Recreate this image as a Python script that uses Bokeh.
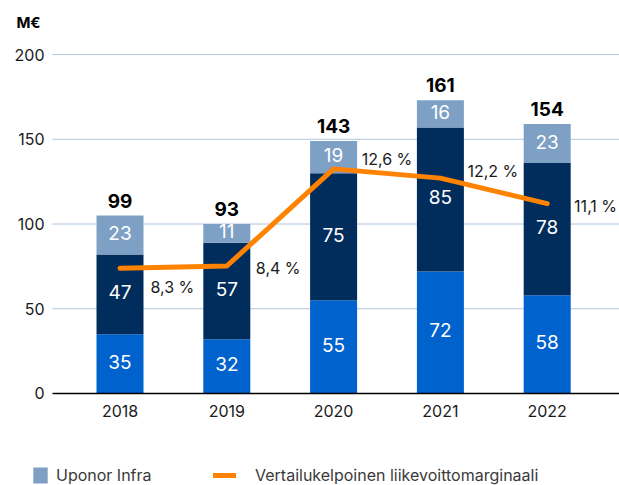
from bokeh.plotting import figure
from bokeh.models import (Range1d, ColumnDataSource, Label, Legend, LegendItem, LabelSet)
from bokeh.core.properties import value
from bokeh.embed import file_html
from bokeh.resources import INLINE

# ---------------- data ----------------
years = ["2018", "2019", "2020", "2021", "2022"]
seg_bottom = [35, 32, 55, 72, 58]
seg_middle = [47, 57, 75, 85, 78]
uponor_infra = [23, 11, 19, 16, 23]
totals = [99, 93, 143, 161, 154]
margin_pct = [8.3, 8.4, 12.6, 12.2, 11.1]
pct_labels = ["8,3 %", "8,4 %", "12,6 %", "12,2 %", "11,1 %"]
y_ticks = [0, 50, 100, 150, 200]

# ---------------- style / layout ----------------
FONT = "Inter"
C_BOTTOM = "#0062CC"
C_MIDDLE = "#002D5C"
C_TOP = "#7DA0C4"
C_LINE = "#FF8200"
C_GRID = "#AFC6DE"
TXT = "#1a1a1a"
X_START, X_END = -1.119, 4.677      # full canvas width in category units
Y_START, Y_END = -54.3, 231.9       # full canvas height in M€
PCT_START, PCT_END = -1.09, 19.88   # secondary (margin %) scale
GRID_X0 = -0.632                    # left end of plot area

x = list(range(len(years)))

p = figure(width=619, height=485,
           x_range=Range1d(X_START, X_END), y_range=Range1d(Y_START, Y_END),
           output_backend="svg", toolbar_location=None,
           min_border=0, min_border_left=0, min_border_right=0,
           min_border_top=0, min_border_bottom=0)
p.outline_line_color = None
p.xaxis.visible = False
p.yaxis.visible = False
p.xgrid.visible = False
p.ygrid.visible = False
p.extra_y_ranges = {"pct": Range1d(PCT_START, PCT_END)}

# grid lines
grid_ticks = y_ticks[1:]
p.segment(x0=[GRID_X0] * len(grid_ticks), x1=[X_END] * len(grid_ticks),
          y0=grid_ticks, y1=grid_ticks, line_color=C_GRID, line_width=1)

# y tick labels
ysrc = ColumnDataSource(dict(x=[GRID_X0] * len(y_ticks), y=y_ticks, t=[str(v) for v in y_ticks]))
p.add_layout(LabelSet(x="x", y="y", text="t", source=ysrc, x_offset=-8,
                      text_align="right", text_baseline="middle", text_color=TXT,
                      text_font=value(FONT), text_font_size="16px"))

# bars
src = ColumnDataSource(dict(x=x, bottom=seg_bottom, middle=seg_middle, infra=uponor_infra))
bars = p.vbar_stack(["bottom", "middle", "infra"], x="x", width=0.44, source=src,
                    fill_color=[C_BOTTOM, C_MIDDLE, C_TOP], line_color=None)

# x axis line
p.segment(x0=[GRID_X0], x1=[X_END], y0=[0], y1=[0], line_color="black", line_width=1.5)

# year labels
xsrc = ColumnDataSource(dict(x=x, y=[0] * len(x), t=years))
p.add_layout(LabelSet(x="x", y="y", text="t", source=xsrc, y_offset=-18,
                      text_align="center", text_baseline="middle", text_color=TXT,
                      text_font=value(FONT), text_font_size="16px"))

# segment labels
seg_x, seg_y, seg_t = [], [], []
for i in x:
    b, m, t = seg_bottom[i], seg_middle[i], uponor_infra[i]
    for base, v in ((0, b), (b, m), (b + m, t)):
        seg_x.append(i)
        seg_y.append(base + v / 2)
        seg_t.append(str(v))
seg_src = ColumnDataSource(dict(x=seg_x, y=seg_y, t=seg_t))
p.add_layout(LabelSet(x="x", y="y", text="t", source=seg_src, y_offset=2,
                      text_color="white", text_align="center", text_baseline="middle",
                      text_font=value(FONT), text_font_size="19px"))

# totals above bars
tops = [seg_bottom[i] + seg_middle[i] + uponor_infra[i] for i in x]
tot_src = ColumnDataSource(dict(x=x, y=tops, t=[str(v) for v in totals]))
p.add_layout(LabelSet(x="x", y="y", text="t", source=tot_src, y_offset=8,
                      text_color="black", text_align="center", text_baseline="bottom",
                      text_font=value(FONT), text_font_style="bold", text_font_size="19px"))

# margin line
line_r = p.line(x, margin_pct, y_range_name="pct", line_color=C_LINE, line_width=5,
                line_cap="round", line_join="round")

label_dx = [-1, -2, 0, -1, -5]
label_dy = [-19, -2, 10, 7, -2]
for i in x:
    p.add_layout(Label(x=i + 0.5, y=margin_pct[i], y_range_name="pct", text=pct_labels[i],
                       x_offset=label_dx[i], y_offset=label_dy[i],
                       text_align="center", text_baseline="middle",
                       text_font=FONT, text_font_size="16px", text_color=TXT))

# unit label
p.add_layout(Label(x=GRID_X0, y=y_ticks[-1], x_offset=-24, y_offset=32, text="M€",
                   text_align="center", text_baseline="middle", text_font=FONT,
                   text_font_size="15px", text_font_style="bold", text_color="black"))

# legends
common = dict(orientation="horizontal", padding=0, margin=0, border_line_color=None,
              background_fill_alpha=0, label_text_font=FONT, label_text_font_size="16px",
              label_text_color="#3a3a3a", label_height=20)
leg1 = Legend(items=[LegendItem(label="Uponor Infra", renderers=[bars[2]])],
              location=(31, 0), glyph_width=18, glyph_height=20, label_standoff=7, **common)
leg2 = Legend(items=[LegendItem(label="Vertailukelpoinen liikevoittomarginaali", renderers=[line_r])],
              location=(213, 0), glyph_width=23, glyph_height=20, label_standoff=19, **common)
p.add_layout(leg1)
p.add_layout(leg2)

open("out.html", "w").write(file_html(p, INLINE))
